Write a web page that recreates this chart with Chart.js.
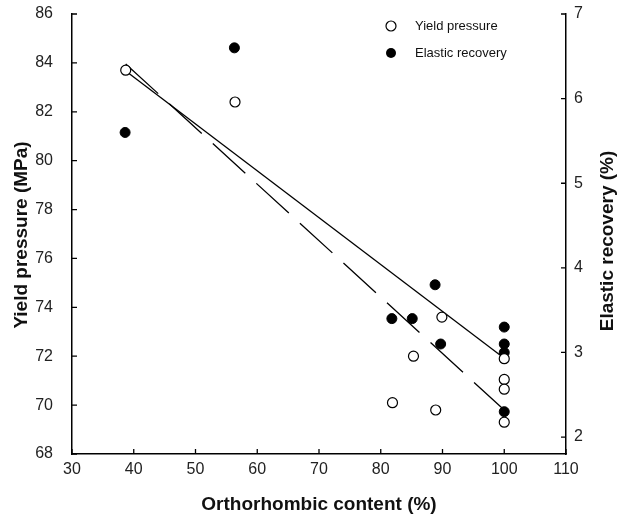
<!DOCTYPE html>
<html lang="en">
<head>
    <meta charset="UTF-8">
    <title>Yield pressure and elastic recovery</title>
    <style>
        body {
            margin: 0;
            padding: 0;
            background-color: #ffffff;
        }
    </style>
    <script src="https://cdn.jsdelivr.net/npm/chart.js"></script>
</head>
<body>
    <canvas id="chart" width="630" height="517"></canvas>

    <script>
        // values
        var orthoYield = [38.7, 56.4, 81.9, 85.3, 88.9, 89.9, 100, 100, 100, 100];
        var yieldPressure = [83.7, 82.4, 70.1, 72.0, 69.8, 73.6, 71.9, 71.05, 70.65, 69.3];

        var orthoElastic = [38.6, 56.3, 81.8, 85.1, 88.8, 89.7, 100, 100, 100, 100];
        var elasticRecovery = [5.6, 6.6, 3.4, 3.4, 3.8, 3.1, 3.3, 3.1, 3.0, 2.3];

        // fitted lines (end points)
        var fitX = [38.7, 100];
        var yieldFit = [83.67, 71.92];
        var elasticFit = [6.41, 2.32];

        var xTicks = [30, 40, 50, 60, 70, 80, 90, 100, 110];
        var leftTicks = [68, 70, 72, 74, 76, 78, 80, 82, 84, 86];
        var rightTicks = [2, 3, 4, 5, 6, 7];

        function pairs(xs, ys) {
            return xs.map(function(x, i) { return { x: x, y: ys[i] }; });
        }

        function setTicks(list) {
            return function(scale) {
                scale.ticks = list.map(function(v) { return { value: v }; });
            };
        }

        // fixed axis box sizes, no extra padding for label overflow
        function fitSize(w, h) {
            return function(s) {
                if (w) s.width = w;
                if (h) s.height = h;
                s.paddingTop = 0;
                s.paddingBottom = 0;
                s.paddingLeft = 0;
                s.paddingRight = 0;
            };
        }

        var tickFont = { family: 'Arial', size: 16 };

        // inward tick marks, axis titles and the legend box
        var extras = {
            id: 'extras',
            afterDraw: function(chart) {
                var ctx = chart.ctx;
                var a = chart.chartArea;
                var sx = chart.scales.x, sy = chart.scales.y, sy2 = chart.scales.y2;
                ctx.save();
                ctx.strokeStyle = '#000';
                ctx.lineWidth = 1.3;
                ctx.beginPath();
                xTicks.forEach(function(v) {
                    var p = sx.getPixelForValue(v);
                    ctx.moveTo(p, a.bottom);
                    ctx.lineTo(p, a.bottom - 5);
                });
                leftTicks.forEach(function(v) {
                    var p = sy.getPixelForValue(v);
                    ctx.moveTo(a.left, p);
                    ctx.lineTo(a.left + 5, p);
                });
                rightTicks.forEach(function(v) {
                    var p = sy2.getPixelForValue(v);
                    ctx.moveTo(a.right, p);
                    ctx.lineTo(a.right - 5, p);
                });
                ctx.stroke();

                ctx.fillStyle = '#111';
                ctx.font = 'bold 19px Arial';
                ctx.textAlign = 'center';
                ctx.textBaseline = 'middle';
                ctx.fillText('Orthorhombic content (%)', (a.left + a.right) / 2, 505);

                ctx.save();
                ctx.translate(22, 235);
                ctx.rotate(-Math.PI / 2);
                ctx.fillText('Yield pressure (MPa)', 0, 0);
                ctx.restore();

                ctx.save();
                ctx.translate(608, 241);
                ctx.rotate(-Math.PI / 2);
                ctx.fillText('Elastic recovery (%)', 0, 0);
                ctx.restore();

                // legend
                ctx.lineWidth = 1.2;
                ctx.beginPath();
                ctx.arc(391, 26, 5, 0, Math.PI * 2);
                ctx.fillStyle = '#fff';
                ctx.fill();
                ctx.stroke();
                ctx.beginPath();
                ctx.arc(391, 53, 5, 0, Math.PI * 2);
                ctx.fillStyle = '#000';
                ctx.fill();

                ctx.fillStyle = '#111';
                ctx.font = '13px Arial';
                ctx.textAlign = 'left';
                ctx.fillText('Yield pressure', 415, 26);
                ctx.fillText('Elastic recovery', 415, 53);
                ctx.restore();
            }
        };

        var ctx = document.getElementById('chart').getContext('2d');
        var chart = new Chart(ctx, {
            type: 'scatter',
            data: {
                datasets: [{
                    label: 'Yield pressure',
                    data: pairs(orthoYield, yieldPressure),
                    yAxisID: 'y',
                    pointRadius: 5,
                    pointBackgroundColor: '#fff',
                    pointBorderColor: '#000',
                    pointBorderWidth: 1.2,
                    order: 1
                }, {
                    label: 'Elastic recovery',
                    data: pairs(orthoElastic, elasticRecovery),
                    yAxisID: 'y2',
                    pointRadius: 5,
                    pointBackgroundColor: '#000',
                    pointBorderColor: '#000',
                    pointBorderWidth: 1,
                    order: 2
                }, {
                    label: 'Yield fit',
                    data: pairs(fitX, yieldFit),
                    yAxisID: 'y',
                    showLine: true,
                    pointRadius: 0,
                    borderColor: '#000',
                    borderWidth: 1.3,
                    order: 3
                }, {
                    label: 'Elastic fit',
                    data: pairs(fitX, elasticFit),
                    yAxisID: 'y2',
                    showLine: true,
                    pointRadius: 0,
                    borderColor: '#000',
                    borderWidth: 1.3,
                    borderDash: [44, 15],
                    order: 4
                }]
            },
            options: {
                responsive: false,
                animation: false,
                layout: { padding: { top: 14, left: 0, right: 0, bottom: 0 } },
                plugins: {
                    legend: { display: false },
                    tooltip: { enabled: false }
                },
                scales: {
                    x: {
                        type: 'linear',
                        min: 30,
                        max: 110,
                        afterBuildTicks: setTicks(xTicks),
                        afterFit: fitSize(0, 63),
                        grid: { drawOnChartArea: false, drawTicks: false },
                        border: { color: '#000', width: 1.5 },
                        ticks: { font: tickFont, color: '#222', padding: 6 }
                    },
                    y: {
                        position: 'left',
                        min: 68,
                        max: 86,
                        afterBuildTicks: setTicks(leftTicks),
                        afterFit: fitSize(72, 0),
                        grid: { drawOnChartArea: false, drawTicks: false },
                        border: { color: '#000', width: 1.5 },
                        ticks: { font: tickFont, color: '#222', padding: 19 }
                    },
                    y2: {
                        position: 'right',
                        min: 1.8,
                        max: 7,
                        afterBuildTicks: setTicks(rightTicks),
                        afterFit: fitSize(64, 0),
                        grid: { drawOnChartArea: false, drawTicks: false },
                        border: { color: '#000', width: 1.5 },
                        ticks: { font: tickFont, color: '#222', padding: 8 }
                    }
                }
            },
            plugins: [extras]
        });
    </script>
</body>
</html>
